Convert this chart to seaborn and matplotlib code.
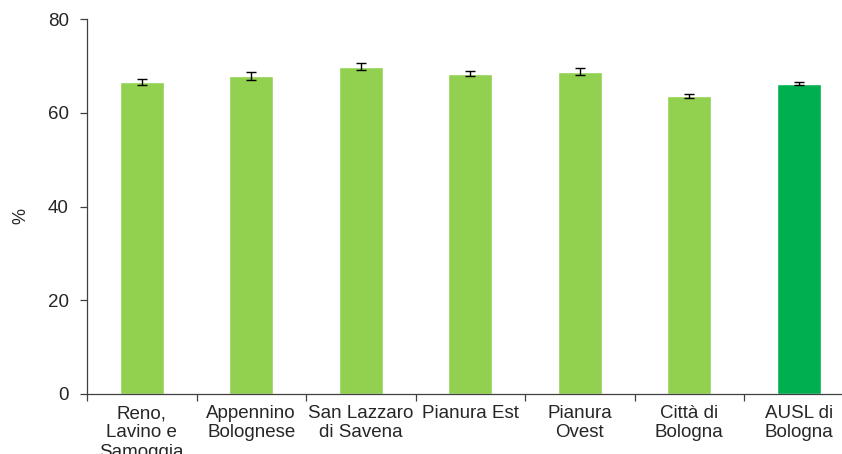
import matplotlib
matplotlib.use("Agg")
import matplotlib.pyplot as plt
import seaborn as sns
import numpy as np
import pandas as pd

# Districts and percentages with their error half-widths
categories = ["Reno,\nLavino e\nSamoggia", "Appennino\nBolognese", "San Lazzaro\ndi Savena",
              "Pianura Est", "Pianura\nOvest", "Città di\nBologna", "AUSL di\nBologna"]
values = [66.5, 67.9, 69.8, 68.3, 68.7, 63.5, 66.2]
errors = [0.65, 0.85, 0.75, 0.55, 0.75, 0.45, 0.3]
colors = ["#92D050"] * 6 + ["#00B050"]
y_ticks = [0, 20, 40, 60, 80]

sns.set_theme(style="white")
plt.rcParams["font.family"] = ["Liberation Sans", "DejaVu Sans"]

df = pd.DataFrame({"area": categories, "pct": values})

fig = plt.figure(figsize=(8.42, 4.54), dpi=100)
ax = fig.add_axes([87 / 842, 60 / 454, 7 * 109.5 / 842, 375 / 454])

sns.barplot(data=df, x="area", y="pct", hue="area", palette=colors,
            width=0.4, legend=False, ax=ax, errorbar=None, saturation=1)
ax.errorbar(np.arange(len(values)), values, yerr=errors, fmt="none",
            ecolor="black", elinewidth=1.0, capsize=3.3, capthick=1.0)

ax.set_xlim(-0.5, len(categories) - 0.5)
ax.set_ylim(0, 80)
ax.set_yticks(y_ticks)
ax.set_xlabel("")
ax.set_ylabel("%", fontsize=13)
ax.yaxis.set_label_coords(-0.075, 0.475)

for side in ["top", "right"]:
    ax.spines[side].set_visible(False)
for side in ["left", "bottom"]:
    ax.spines[side].set_color("#404040")
    ax.spines[side].set_linewidth(0.9)

ax.tick_params(axis="y", which="major", direction="out", length=5, width=0.9,
               color="#404040", labelsize=13.5, pad=8, left=True)
ax.set_xticks(np.arange(len(categories)))
ax.set_xticklabels(categories, fontsize=13.5, linespacing=1.17)
ax.tick_params(axis="x", which="major", length=0, pad=8)
ax.set_xticks(np.arange(len(categories) + 1) - 0.5, minor=True)
ax.tick_params(axis="x", which="minor", direction="out", length=5, width=0.9,
               color="#404040", bottom=True)

fig.savefig("out.png", dpi=100)
